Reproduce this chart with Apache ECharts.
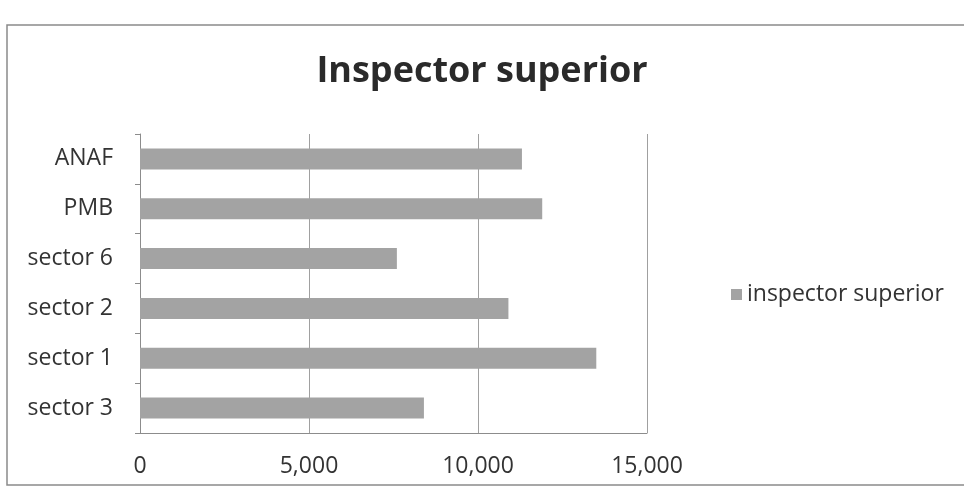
<!DOCTYPE html>
<html>
<head>
<meta charset="utf-8">
<script src="https://cdn.jsdelivr.net/npm/echarts@6/dist/echarts.min.js"></script>
<style>
  html, body { margin: 0; padding: 0; background: #fff; }
  #chart { width: 964px; height: 499px; }
</style>
</head>
<body>
<div id="chart"></div>
<script>
// categories from bottom to top (ECharts draws category axis upward)
var categories = ['sector 3', 'sector 1', 'sector 2', 'sector 6', 'PMB', 'ANAF'];
var values = [8400, 13500, 10900, 7600, 11900, 11300];
var seriesName = 'inspector superior';
var titleText = 'Inspector superior';

var fontFam = '"Open Sans", "Noto Sans", sans-serif';

var option = {
  backgroundColor: '#fff',
  animation: false,
  title: {
    text: titleText,
    left: 'center',
    top: 49,
    textStyle: {
      fontFamily: fontFam,
      fontSize: 36,
      fontWeight: 'bold',
      color: '#2a2a2a'
    }
  },
  legend: {
    data: [seriesName],
    left: 726,
    top: 278,
    icon: 'rect',
    itemWidth: 11,
    itemHeight: 11,
    itemGap: 9,
    textStyle: { fontFamily: fontFam, fontSize: 23, color: '#333' }
  },
  graphic: [{
    type: 'rect',
    shape: { x: 7, y: 25, width: 970, height: 460 },
    style: { fill: 'none', stroke: '#8a8a8a', lineWidth: 1.5 },
    silent: true
  }],
  grid: {
    left: 140,
    right: 317,
    top: 134,
    bottom: 66,
    containLabel: false
  },
  xAxis: {
    type: 'value',
    min: 0,
    max: 15000,
    interval: 5000,
    axisLine: { show: true, lineStyle: { color: '#8c8c8c', width: 1 } },
    axisTick: { show: false },
    splitLine: { show: true, lineStyle: { color: '#a0a0a0', width: 1 } },
    axisLabel: {
      margin: 22,
      fontFamily: fontFam,
      fontSize: 23,
      color: '#333',
      formatter: function (v) { return v.toLocaleString('en-US'); }
    }
  },
  yAxis: {
    type: 'category',
    data: categories,
    axisLine: { show: true, lineStyle: { color: '#8c8c8c', width: 1 } },
    axisTick: { show: true, length: 5, lineStyle: { color: '#8c8c8c' } },
    axisLabel: {
      margin: 27,
      fontFamily: fontFam,
      fontSize: 23,
      color: '#333'
    }
  },
  series: [{
    name: seriesName,
    type: 'bar',
    data: values,
    barCategoryGap: '58%',
    itemStyle: { color: '#a3a3a3' }
  }]
};

var myChart = echarts.init(document.getElementById('chart'));
myChart.setOption(option);
</script>
</body>
</html>
